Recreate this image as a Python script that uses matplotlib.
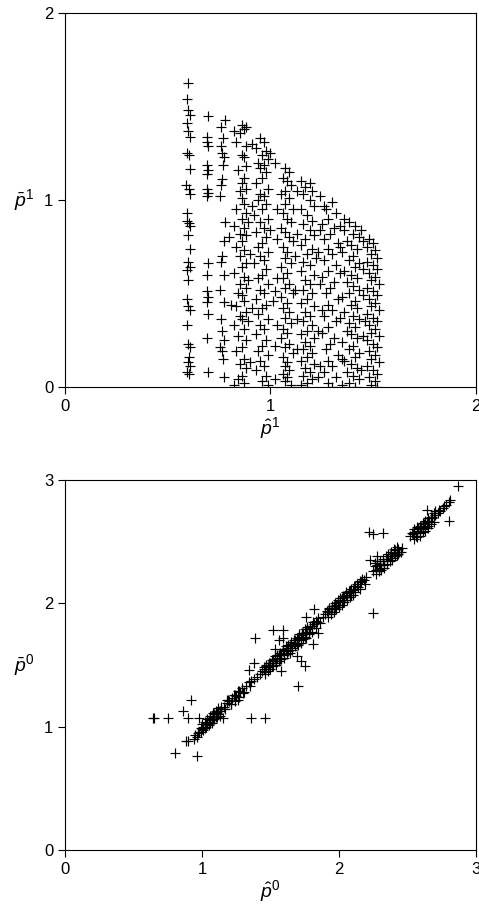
import matplotlib
matplotlib.use('Agg')
import matplotlib.pyplot as plt

plt.rcParams['font.family'] = ['Liberation Sans', 'DejaVu Sans']
plt.rcParams['mathtext.fontset'] = 'custom'
plt.rcParams['mathtext.it'] = 'Liberation Sans:italic'
plt.rcParams['mathtext.rm'] = 'Liberation Sans'

# upper panel: p_hat^1 vs p_bar^1, read column by column
col_a = [(0.60,1.625),(0.595,1.54),(0.60,1.48),(0.61,1.455),(0.595,1.41),(0.60,1.37),(0.61,1.34),
         (0.595,1.25),(0.605,1.24),(0.61,1.165),(0.59,1.08),(0.605,1.06),(0.61,1.03),(0.595,0.93),
         (0.595,0.89),(0.605,0.875),(0.61,0.86),(0.60,0.81),(0.61,0.74),(0.60,0.67),(0.61,0.64),
         (0.595,0.625),(0.60,0.57),(0.595,0.47),(0.60,0.43),(0.61,0.41),(0.595,0.33),(0.60,0.23),
         (0.61,0.21),(0.605,0.16),(0.60,0.13),(0.61,0.11),(0.595,0.08),(0.605,0.07)]
col_b = [(0.695,1.45),(0.69,1.34),(0.69,1.31),(0.695,1.29),(0.69,1.19),(0.695,1.16),(0.69,1.14),
         (0.69,1.06),(0.695,1.04),(0.69,1.02),(0.695,0.66),(0.69,0.60),(0.69,0.51),(0.695,0.48),
         (0.69,0.455),(0.695,0.39),(0.69,0.26),(0.695,0.08)]
col_c = [(0.78,1.43),(0.76,1.39),(0.77,1.33),(0.76,1.29),(0.765,1.25),(0.775,1.23),(0.77,1.19),
         (0.765,1.11),(0.76,1.08),(0.755,1.02),(0.78,0.88),(0.775,0.78),(0.765,0.70),(0.76,0.67),
         (0.775,0.60),(0.755,0.52),(0.775,0.455),(0.76,0.36),(0.765,0.30),(0.775,0.25),(0.755,0.21),
         (0.765,0.19),(0.77,0.15),(0.775,0.05),(0.82,1.37),(0.80,0.80),(0.81,0.44)]
col_d = [(0.86,1.40),(0.88,1.39),(0.87,1.38),(0.85,1.36),(0.83,1.31),(0.88,1.29),(0.86,1.24),
         (0.87,1.23),(0.88,1.18),(0.84,1.16),(0.87,1.12),(0.86,1.09),(0.88,1.06),(0.85,1.05),
         (0.86,1.01),(0.87,0.98),(0.83,0.95),(0.88,0.93),(0.86,0.90),(0.82,0.86),(0.87,0.85),
         (0.85,0.82),(0.88,0.81),(0.86,0.78),(0.83,0.75),(0.87,0.73),(0.85,0.70),(0.88,0.66),
         (0.86,0.64),(0.82,0.61),(0.87,0.59),(0.85,0.55),(0.88,0.53),(0.84,0.50),(0.86,0.49),
         (0.87,0.46),(0.83,0.43),(0.88,0.40),(0.85,0.38),(0.86,0.36),(0.82,0.33),(0.87,0.31),
         (0.84,0.27),(0.88,0.25),(0.86,0.21),(0.83,0.19),(0.87,0.15),(0.85,0.12),(0.88,0.10),
         (0.86,0.06),(0.84,0.04),(0.87,0.02),(0.82,0.01),(0.89,0.88),(0.89,0.57),(0.89,0.35)]
col_e = [(0.95,1.33),(0.97,1.31),(0.93,1.28),(0.98,1.26),(0.96,1.24),(0.99,1.22),(0.94,1.20),
         (0.97,1.19),(0.95,1.17),(0.98,1.15),(0.96,1.12),(0.93,1.09),(0.99,1.06),(0.95,1.03),
         (0.97,1.02),(0.94,1.00),(0.98,0.98),(0.96,0.95),(0.92,0.92),(0.99,0.90),(0.95,0.88),
         (0.97,0.85),(0.93,0.83),(0.98,0.80),(0.96,0.77),(0.94,0.75),(0.99,0.72),(0.95,0.70),
         (0.97,0.68),(0.92,0.66),(0.98,0.63),(0.96,0.60),(0.94,0.58),(0.99,0.55),(0.95,0.52),
         (0.97,0.50),(0.93,0.47),(0.98,0.44),(0.96,0.42),(0.94,0.39),(0.99,0.36),(0.95,0.33),
         (0.97,0.31),(0.93,0.28),(0.98,0.25),(0.96,0.22),(0.94,0.19),(0.99,0.17),(0.95,0.14),
         (0.97,0.11),(0.93,0.09),(0.98,0.06),(0.96,0.03),(0.99,0.01),(1.00,1.25),(1.00,0.84),
         (1.01,0.46)]
col_f = [(1.07,1.17),(1.09,1.15),(1.06,1.12),(1.08,1.10),(1.10,1.08),(1.07,1.05),(1.05,1.03),
         (1.09,1.01),(1.07,0.98),(1.11,0.95),(1.06,0.93),(1.08,0.90),(1.10,0.88),(1.05,0.85),
         (1.07,0.83),(1.09,0.80),(1.11,0.78),(1.06,0.75),(1.08,0.72),(1.07,0.69),(1.10,0.66),
         (1.05,0.64),(1.08,0.61),(1.06,0.58),(1.09,0.55),(1.07,0.53),(1.11,0.50),(1.05,0.48),
         (1.08,0.45),(1.06,0.42),(1.09,0.40),(1.07,0.37),(1.10,0.34),(1.06,0.31),(1.08,0.29),
         (1.05,0.26),(1.09,0.23),(1.07,0.21),(1.11,0.18),(1.06,0.16),(1.08,0.13),(1.07,0.11),
         (1.09,0.09),(1.06,0.07),(1.08,0.05),(1.07,0.03),(1.10,0.01),(1.03,0.95),(1.03,0.58),
         (1.02,0.22),(1.12,0.70),(1.13,0.36)]
col_g = [(1.15,1.10),(1.19,1.09),(1.17,1.07),(1.20,1.05),(1.16,1.03),(1.19,1.00),(1.21,0.97),
         (1.15,0.95),(1.18,0.92),(1.20,0.89),(1.16,0.87),(1.19,0.84),(1.21,0.81),(1.17,0.79),
         (1.15,0.76),(1.20,0.74),(1.18,0.71),(1.22,0.69),(1.16,0.67),(1.19,0.65),(1.15,0.62),
         (1.21,0.60),(1.17,0.57),(1.19,0.55),(1.16,0.52),(1.20,0.50),(1.18,0.47),(1.15,0.45),
         (1.21,0.43),(1.17,0.40),(1.19,0.38),(1.16,0.35),(1.20,0.33),(1.18,0.30),(1.15,0.28),
         (1.21,0.26),(1.17,0.24),(1.19,0.22),(1.16,0.20),(1.20,0.18),(1.18,0.16),(1.15,0.14),
         (1.21,0.12),(1.17,0.10),(1.19,0.08),(1.16,0.06),(1.20,0.04),(1.18,0.02),(1.15,0.01),
         (1.23,0.72),(1.23,0.30),(1.24,0.11)]
col_h = [(1.30,0.99),(1.27,0.95),(1.32,0.93),(1.28,0.90),(1.25,0.87),(1.31,0.85),(1.29,0.82),
         (1.26,0.79),(1.33,0.77),(1.28,0.74),(1.30,0.71),(1.26,0.68),(1.32,0.65),(1.28,0.62),
         (1.25,0.59),(1.31,0.56),(1.29,0.53),(1.27,0.50),(1.33,0.47),(1.28,0.44),(1.30,0.41),
         (1.26,0.38),(1.32,0.35),(1.28,0.32),(1.25,0.29),(1.31,0.26),(1.29,0.23),(1.27,0.20),
         (1.33,0.17),(1.28,0.14),(1.30,0.11),(1.26,0.08),(1.32,0.05),(1.28,0.02),(1.30,0.0)]
col_i = [(1.38,0.88),(1.41,0.86),(1.36,0.84),(1.40,0.82),(1.43,0.80),(1.37,0.78),(1.39,0.76),
         (1.42,0.74),(1.35,0.72),(1.40,0.70),(1.38,0.68),(1.43,0.66),(1.41,0.64),(1.36,0.62),
         (1.39,0.60),(1.42,0.58),(1.37,0.56),(1.40,0.54),(1.43,0.52),(1.38,0.50),(1.35,0.48),
         (1.41,0.46),(1.39,0.44),(1.42,0.42),(1.36,0.40),(1.40,0.38),(1.43,0.36),(1.38,0.34),
         (1.41,0.32),(1.37,0.30),(1.39,0.28),(1.42,0.26),(1.35,0.24),(1.40,0.22),(1.38,0.20),
         (1.43,0.18),(1.41,0.16),(1.36,0.14),(1.39,0.12),(1.42,0.10),(1.37,0.08),(1.40,0.06),
         (1.43,0.04),(1.38,0.02),(1.41,0.0),(1.34,0.61),(1.34,0.37),(1.45,0.63),(1.45,0.27)]
col_j = [(1.48,0.79),(1.50,0.77),(1.47,0.75),(1.51,0.73),(1.49,0.71),(1.52,0.69),(1.47,0.67),
         (1.50,0.65),(1.52,0.63),(1.48,0.61),(1.51,0.59),(1.49,0.57),(1.53,0.55),(1.47,0.53),
         (1.50,0.51),(1.52,0.49),(1.48,0.47),(1.51,0.45),(1.49,0.43),(1.53,0.41),(1.47,0.39),
         (1.50,0.37),(1.52,0.35),(1.48,0.33),(1.51,0.31),(1.49,0.29),(1.53,0.27),(1.47,0.25),
         (1.50,0.23),(1.52,0.21),(1.48,0.19),(1.51,0.17),(1.49,0.15),(1.53,0.13),(1.47,0.11),
         (1.50,0.09),(1.52,0.07),(1.48,0.05),(1.51,0.03),(1.49,0.01),(1.52,0.0)]
between = [(0.91,1.30),(0.91,0.97),(0.90,0.71),(0.91,0.42),(0.90,0.13),(1.02,1.20),(1.03,0.79),
           (1.02,0.51),(1.03,0.33),(1.02,0.04),(1.13,1.05),(1.13,0.82),(1.12,0.52),(1.13,0.20),
           (1.24,1.02),(1.24,0.84),(1.24,0.55),(1.25,0.41),(1.23,0.05),(1.34,0.86),(1.34,0.75),
           (1.35,0.15),(1.35,0.01),(1.45,0.78),(1.45,0.49),(1.44,0.09),(1.46,0.35),(1.26,0.97),
           (1.36,0.90),(1.44,0.84)]

# lower panel: p_hat^0 vs p_bar^0
band = [(0.94,0.90),(0.95,0.93),(0.96,0.92),(0.97,0.95),(0.98,0.96),(0.99,0.99),(1.00,0.98),
        (1.01,1.00),(1.02,0.99),(1.03,1.03),(1.04,1.02),(1.05,1.04),(1.06,1.07),(1.07,1.05),
        (1.08,1.08),(1.09,1.10),(1.10,1.08),(1.11,1.11),(1.12,1.10),(1.13,1.13),(1.06,1.03),
        (1.08,1.06),(1.10,1.12),(1.12,1.13),(1.14,1.14),(1.15,1.07),(1.16,1.16),(1.18,1.19),
        (1.20,1.21),(1.21,1.18),(1.22,1.23),(1.24,1.21),(1.25,1.25),(1.27,1.24),(1.28,1.28),
        (1.30,1.27),(1.26,1.29),(1.32,1.33),(1.34,1.36),(1.36,1.37),(1.38,1.39),(1.40,1.40),
        (1.42,1.43),(1.44,1.45),(1.45,1.47),(1.46,1.44),(1.47,1.49),(1.48,1.48),(1.49,1.50),
        (1.50,1.52),(1.51,1.49),(1.52,1.53),(1.53,1.55),(1.54,1.52),(1.55,1.56),(1.56,1.58),
        (1.57,1.55),(1.58,1.59),(1.59,1.61),(1.60,1.58),(1.61,1.62),(1.62,1.64),(1.63,1.61),
        (1.64,1.65),(1.65,1.67),(1.66,1.64),(1.67,1.68),(1.68,1.70),(1.69,1.67),(1.70,1.71),
        (1.71,1.73),(1.72,1.70),(1.73,1.74),(1.74,1.76),(1.75,1.73),(1.76,1.77),(1.77,1.79),
        (1.78,1.76),(1.79,1.80),(1.80,1.82),(1.82,1.83),(1.84,1.85),(1.86,1.84),(1.88,1.89),
        (1.90,1.91),(1.92,1.93),(1.93,1.95),(1.94,1.93),(1.95,1.96),(1.96,1.98),(1.97,1.96),
        (1.98,1.99),(1.99,2.01),(2.00,1.99),(2.01,2.02),(2.02,2.04),(2.03,2.01),(2.04,2.05),
        (2.05,2.07),(2.06,2.05),(2.07,2.08),(2.08,2.10),(2.09,2.07),(2.10,2.11),(2.12,2.14),
        (2.14,2.13),(2.16,2.17),(2.18,2.19),(2.19,2.16),(2.20,2.21),(2.25,2.26),(2.26,2.30),
        (2.27,2.27),(2.28,2.31),(2.29,2.28),(2.30,2.32),(2.31,2.29),(2.32,2.34),(2.33,2.31),
        (2.35,2.36),(2.37,2.38),(2.38,2.40),(2.39,2.37),(2.40,2.41),(2.41,2.43),(2.42,2.39),
        (2.43,2.44),(2.44,2.42),(2.46,2.45),(2.52,2.55),(2.54,2.56),(2.55,2.58),(2.56,2.55),
        (2.57,2.59),(2.58,2.61),(2.59,2.57),(2.60,2.62),(2.61,2.60),(2.62,2.64),(2.63,2.62),
        (2.64,2.66),(2.65,2.63),(2.66,2.67),(2.68,2.69),(2.70,2.72),(2.72,2.73),(2.74,2.75),
        (2.76,2.77),(2.78,2.80),(2.80,2.82),(2.81,2.84)]
band_hi = [(1.00,1.02),(1.02,1.04),(1.04,1.06),(1.06,1.09),(1.08,1.11),(1.10,1.13),(1.12,1.15),
           (1.14,1.16),(1.19,1.22),(1.23,1.26),(1.27,1.29),(1.29,1.31),(1.45,1.48),(1.47,1.50),
           (1.49,1.52),(1.51,1.54),(1.53,1.57),(1.55,1.58),(1.57,1.60),(1.59,1.63),(1.61,1.65),
           (1.63,1.66),(1.65,1.69),(1.67,1.70),(1.69,1.72),(1.71,1.75),(1.73,1.76),(1.75,1.79),
           (1.77,1.81),(1.79,1.82),(1.81,1.85),(1.83,1.86),(1.85,1.88),(1.91,1.94),(1.93,1.96),
           (1.95,1.98),(1.97,2.00),(1.99,2.03),(2.01,2.04),(2.03,2.06),(2.05,2.09),(2.07,2.10),
           (2.09,2.12),(2.11,2.14),(2.13,2.16),(2.15,2.18),(2.17,2.20),(2.26,2.33),(2.28,2.34),
           (2.30,2.34),(2.32,2.36),(2.34,2.38),(2.36,2.40),(2.38,2.42),(2.40,2.44),(2.42,2.46),
           (2.53,2.57),(2.55,2.60),(2.57,2.62),(2.59,2.63),(2.61,2.65),(2.63,2.67),(2.65,2.69),
           (2.67,2.70),(2.69,2.73),(2.73,2.76),(2.77,2.79)]
band_lo = [(0.99,0.96),(1.01,0.97),(1.03,1.00),(1.05,1.01),(1.07,1.03),(1.09,1.06),(1.11,1.08),
           (1.13,1.09),(1.17,1.14),(1.21,1.18),(1.26,1.22),(1.31,1.28),(1.35,1.33),(1.46,1.43),
           (1.48,1.45),(1.50,1.47),(1.52,1.49),(1.54,1.50),(1.56,1.53),(1.58,1.55),(1.60,1.56),
           (1.62,1.59),(1.64,1.60),(1.66,1.62),(1.68,1.65),(1.70,1.66),(1.72,1.68),(1.74,1.71),
           (1.76,1.72),(1.78,1.75),(1.80,1.77),(1.83,1.80),(1.92,1.89),(1.94,1.91),(1.96,1.93),
           (1.98,1.95),(2.00,1.97),(2.02,1.99),(2.04,2.01),(2.06,2.03),(2.08,2.05),(2.10,2.07),
           (2.12,2.09),(2.15,2.12),(2.27,2.24),(2.29,2.26),(2.31,2.27),(2.33,2.29),(2.35,2.32),
           (2.37,2.34),(2.39,2.35),(2.41,2.38),(2.43,2.40),(2.45,2.42),(2.55,2.52),(2.57,2.54),
           (2.59,2.55),(2.61,2.58),(2.63,2.59),(2.65,2.61),(2.67,2.64),(2.69,2.66)]
outliers = [(0.64,1.07),(0.65,1.07),(0.75,1.07),(0.86,1.13),(0.92,1.22),(0.90,1.07),(0.98,1.07),
            (0.80,0.79),(0.96,0.76),(0.88,0.88),(0.90,0.88),(1.36,1.07),(1.46,1.07),(1.34,1.46),
            (1.38,1.52),(1.39,1.72),(1.52,1.78),(1.59,1.78),(1.59,1.72),(1.58,1.45),(1.70,1.33),
            (1.69,1.57),(1.75,1.49),(1.72,1.53),(1.76,1.89),(1.82,1.95),(1.85,1.76),(1.81,1.67),
            (2.25,1.92),(2.22,2.58),(2.25,2.56),(2.32,2.57),(2.23,2.35),(2.28,2.38),(2.80,2.67),
            (2.87,2.95),(2.64,2.76),(2.70,2.75),(2.68,2.70),(1.18,1.22),(1.24,1.26),(1.53,1.63),
            (1.56,1.70)]

top_sets = [col_a, col_b, col_c, col_d, col_e, col_f, col_g, col_h, col_i, col_j, between]
bottom_sets = [band, band_hi, band_lo, outliers]

fig = plt.figure(figsize=(4.79, 9.05), dpi=100)
ax1 = fig.add_axes([0.1357, 0.5727, 0.858, 0.4126])
ax2 = fig.add_axes([0.1357, 0.0608, 0.858, 0.4088])

mk = dict(marker='+', linestyle='none', color='black', markersize=7, markeredgewidth=0.85)

for s in top_sets:
    ax1.plot([p[0] for p in s], [p[1] for p in s], **mk)
for s in bottom_sets:
    ax2.plot([p[0] for p in s], [p[1] for p in s], **mk)

for ax, lim, sup in [(ax1, 2, '1'), (ax2, 3, '0')]:
    ax.set_xlim(0, lim)
    ax.set_ylim(0, lim)
    ax.set_xticks(range(lim + 1))
    ax.set_yticks(range(lim + 1))
    ax.tick_params(direction='out', length=5, width=0.8, labelsize=12, top=False, right=False)
    for sp in ax.spines.values():
        sp.set_linewidth(0.8)
    ax.set_xlabel(r'$\hat{p}^{%s}$' % sup, fontsize=14, labelpad=1)
    ax.set_ylabel(r'$\bar{p}^{%s}$' % sup, fontsize=14, rotation=0, labelpad=14, va='center')

fig.savefig('out.png', dpi=100)
